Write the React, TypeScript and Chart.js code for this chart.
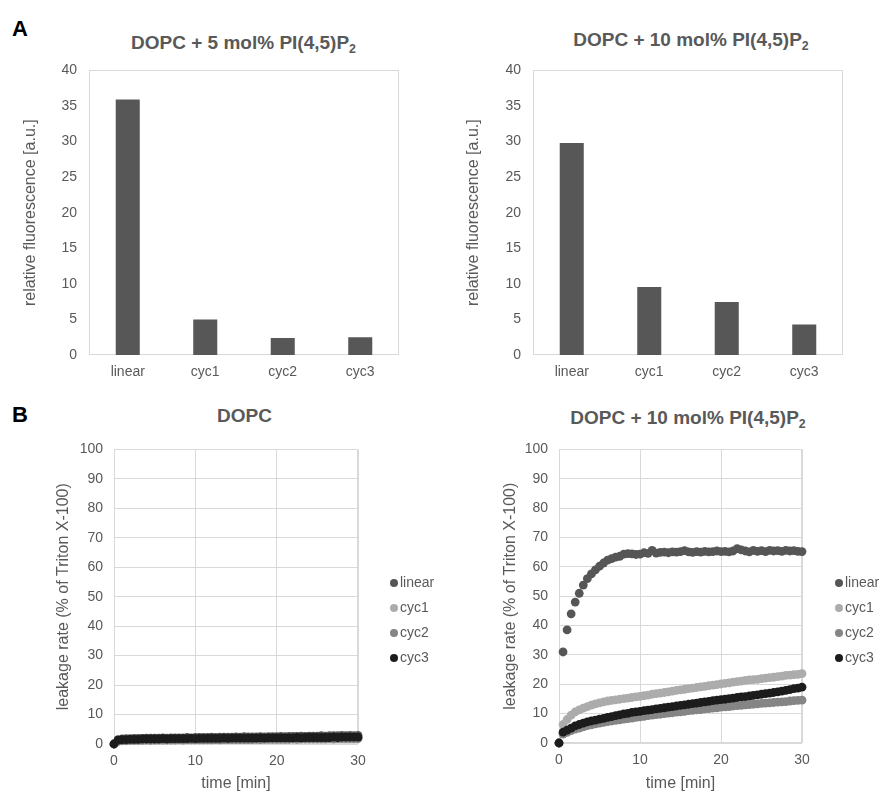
import React, { useEffect, useRef } from 'react';
import { Chart, registerables } from 'chart.js';

Chart.register(...registerables);

const FONT = "'Liberation Sans', Arial, Helvetica, sans-serif";
const TEXT = '#595959';
const GRID = '#d9d9d9';

// ---------- Panel A data ----------
const categories = ['linear', 'cyc1', 'cyc2', 'cyc3'];
const fluor5 = [35.9, 5.0, 2.4, 2.5];
const fluor10 = [29.8, 9.55, 7.45, 4.3];

// ---------- Panel B data ----------
const seriesNames = ['linear', 'cyc1', 'cyc2', 'cyc3'];
const seriesColors = ['#565656', '#acacac', '#858585', '#1c1c1c'];

const timeMin = [
  0, 0.5, 1, 1.5, 2, 2.5, 3, 3.5, 4, 4.5,
  5, 5.5, 6, 6.5, 7, 7.5, 8, 8.5, 9, 9.5,
  10, 10.5, 11, 11.5, 12, 12.5, 13, 13.5, 14, 14.5,
  15, 15.5, 16, 16.5, 17, 17.5, 18, 18.5, 19, 19.5,
  20, 20.5, 21, 21.5, 22, 22.5, 23, 23.5, 24, 24.5,
  25, 25.5, 26, 26.5, 27, 27.5, 28, 28.5, 29, 29.5,
  30,
];

// DOPC
const dopcLinear = [
  0, 1.5, 1.7, 1.8, 1.8, 1.9, 1.9, 1.9, 2.0, 2.0,
  2.0, 2.0, 2.1, 2.0, 2.1, 2.1, 2.1, 2.1, 2.2, 2.1,
  2.2, 2.2, 2.2, 2.2, 2.3, 2.2, 2.3, 2.3, 2.3, 2.3,
  2.4, 2.3, 2.5, 2.4, 2.4, 2.4, 2.5, 2.4, 2.5, 2.5,
  2.5, 2.6, 2.5, 2.6, 2.6, 2.6, 2.7, 2.6, 2.7, 2.7,
  2.7, 2.8, 2.7, 2.8, 2.8, 2.8, 2.9, 2.8, 2.9, 2.8,
  2.9,
];
const dopcCyc1 = [
  0, 1.0, 1.2, 1.3, 1.3, 1.3, 1.4, 1.4, 1.4, 1.4,
  1.4, 1.5, 1.4, 1.5, 1.5, 1.5, 1.5, 1.5, 1.5, 1.6,
  1.5, 1.6, 1.6, 1.6, 1.6, 1.6, 1.6, 1.7, 1.6, 1.7,
  1.7, 1.7, 1.7, 1.7, 1.7, 1.8, 1.7, 1.8, 1.8, 1.8,
  1.8, 1.8, 1.8, 1.9, 1.8, 1.9, 1.9, 1.9, 1.9, 1.9,
  1.9, 2.0, 1.9, 2.0, 2.0, 2.0, 2.0, 2.0, 2.1, 2.0,
  2.1,
];
const dopcCyc2 = [
  0, 0.9, 1.1, 1.1, 1.2, 1.2, 1.2, 1.2, 1.3, 1.2,
  1.3, 1.3, 1.3, 1.3, 1.3, 1.3, 1.4, 1.3, 1.4, 1.4,
  1.4, 1.4, 1.4, 1.4, 1.4, 1.5, 1.4, 1.5, 1.5, 1.5,
  1.5, 1.5, 1.5, 1.5, 1.5, 1.6, 1.5, 1.6, 1.6, 1.6,
  1.6, 1.6, 1.6, 1.6, 1.7, 1.6, 1.7, 1.7, 1.7, 1.7,
  1.7, 1.7, 1.7, 1.8, 1.7, 1.8, 1.8, 1.8, 1.8, 1.8,
  1.8,
];
const dopcCyc3 = [
  0, 1.3, 1.5, 1.5, 1.6, 1.6, 1.6, 1.7, 1.7, 1.7,
  1.7, 1.7, 1.8, 1.7, 1.8, 1.8, 1.8, 1.8, 1.8, 1.9,
  1.8, 1.9, 1.9, 1.9, 1.9, 1.9, 1.9, 2.0, 1.9, 2.0,
  2.0, 2.0, 2.0, 2.0, 2.0, 2.0, 2.1, 2.0, 2.1, 2.1,
  2.1, 2.1, 2.1, 2.1, 2.1, 2.2, 2.1, 2.2, 2.2, 2.2,
  2.2, 2.2, 2.2, 2.2, 2.3, 2.2, 2.3, 2.3, 2.3, 2.3,
  2.3,
];

// DOPC + 10 mol% PI(4,5)P2
const pipLinear = [
  0, 31, 38.5, 44, 48, 51, 53.8, 56, 57.6, 59,
  60.2, 61.3, 62.3, 62.8, 63.3, 63.6, 64.3, 64.5, 64.4, 64.2,
  64.3, 64.8, 64.6, 65.6, 64.7, 64.9, 65.0, 64.8, 65.1, 65.0,
  65.2, 65.5, 65.1, 64.9, 65.2, 65.0, 65.3, 65.1, 65.2, 65.4,
  65.2, 65.3, 65.1, 65.4, 66.2, 65.8, 65.4, 65.1, 65.6, 65.3,
  65.5, 65.2, 65.6, 65.4, 65.5, 65.3, 65.6, 65.4, 65.5, 65.3,
  65.2,
];
const pipCyc1 = [
  0, 6.3, 8.0, 9.5, 10.6, 11.3, 11.9, 12.4, 12.9, 13.3,
  13.7, 14.0, 14.3, 14.5, 14.7, 14.9, 15.1, 15.3, 15.5, 15.7,
  15.9, 16.1, 16.3, 16.6, 16.8, 17.0, 17.2, 17.4, 17.7, 17.9,
  18.1, 18.3, 18.5, 18.7, 18.9, 19.1, 19.3, 19.5, 19.7, 19.9,
  20.1, 20.3, 20.5, 20.7, 20.9, 21.1, 21.3, 21.5, 21.6, 21.7,
  21.9, 22.1, 22.3, 22.4, 22.6, 22.8, 23.0, 23.1, 23.3, 23.4,
  23.6,
];
const pipCyc2 = [
  0, 3.0, 3.6, 4.2, 4.7, 5.1, 5.5, 5.9, 6.2, 6.5,
  6.8, 7.0, 7.3, 7.5, 7.7, 7.9, 8.1, 8.3, 8.5, 8.7,
  8.9, 9.1, 9.3, 9.5, 9.7, 9.8, 10.0, 10.2, 10.3, 10.5,
  10.6, 10.8, 11.0, 11.1, 11.3, 11.4, 11.6, 11.7, 11.9, 12.0,
  12.2, 12.3, 12.4, 12.6, 12.7, 12.8, 13.0, 13.1, 13.2, 13.3,
  13.5, 13.6, 13.7, 13.8, 13.9, 14.0, 14.1, 14.3, 14.4, 14.5,
  14.6,
];
const pipCyc3 = [
  0, 3.7, 4.4, 5.1, 5.8, 6.3, 6.8, 7.2, 7.5, 7.8,
  8.1, 8.4, 8.7, 9.0, 9.3, 9.6, 9.9, 10.1, 10.4, 10.6,
  10.8, 11.0, 11.2, 11.4, 11.6, 11.8, 12.0, 12.2, 12.4, 12.6,
  12.8, 13.0, 13.2, 13.4, 13.6, 13.8, 14.0, 14.2, 14.4, 14.6,
  14.8, 14.9, 15.1, 15.3, 15.5, 15.7, 15.8, 16.0, 16.2, 16.4,
  16.6, 16.8, 17.0, 17.2, 17.4, 17.7, 17.9, 18.2, 18.5, 18.7,
  19.0,
];

type Box = { left: number; top: number; width: number; height: number };
type Plot = { left: number; top: number; right: number; bottom: number };

const framePlugin = {
  id: 'plotFrame',
  beforeDatasetsDraw(chart: any) {
    const { ctx, chartArea } = chart;
    const l = Math.round(chartArea.left) + 0.5;
    const t = Math.round(chartArea.top) + 0.5;
    const r = Math.round(chartArea.right) - 0.5;
    const b = Math.round(chartArea.bottom) - 0.5;
    ctx.save();
    ctx.strokeStyle = GRID;
    ctx.lineWidth = 1;
    ctx.strokeRect(l, t, r - l, b - t);
    ctx.restore();
  },
};

function baseOptions(box: Box, plot: Plot) {
  return {
    animation: false,
    responsive: false,
    devicePixelRatio: 1,
    layout: {
      padding: {
        left: 0,
        top: plot.top - box.top,
        right: box.left + box.width - plot.right,
        bottom: 0,
      },
    },
    plugins: { legend: { display: false }, tooltip: { enabled: false } },
  };
}

function barConfig(box: Box, plot: Plot, values: number[], yTitlePad: number) {
  const yWidth = plot.left - box.left;
  const xHeight = box.top + box.height - plot.bottom;
  return {
    type: 'bar',
    data: {
      labels: categories,
      datasets: [
        {
          data: values,
          backgroundColor: '#575757',
          barPercentage: 0.31,
          categoryPercentage: 1,
        },
      ],
    },
    options: {
      ...baseOptions(box, plot),
      scales: {
        x: {
          grid: { display: false, drawTicks: false },
          border: { display: false },
          ticks: { color: TEXT, font: { family: FONT, size: 14 }, padding: 9 },
          afterFit: (s: any) => {
            s.height = xHeight;
          },
        },
        y: {
          min: 0,
          max: 40,
          ticks: { stepSize: 5, color: TEXT, font: { family: FONT, size: 14 }, padding: 12 },
          grid: { display: false, drawTicks: false },
          border: { display: false },
          title: {
            display: true,
            text: 'relative fluorescence [a.u.]',
            color: TEXT,
            font: { family: FONT, size: 16 },
            padding: { top: yTitlePad, bottom: 0 },
          },
          afterFit: (s: any) => {
            s.width = yWidth;
          },
        },
      },
    },
    plugins: [framePlugin],
  };
}

function scatterConfig(box: Box, plot: Plot, series: number[][], yTitlePad: number) {
  const yWidth = plot.left - box.left;
  const xHeight = box.top + box.height - plot.bottom;
  const drawOrder = [3, 2, 1, 0];
  return {
    type: 'scatter',
    data: {
      datasets: series.map((vals, k) => ({
        label: seriesNames[k],
        data: timeMin.map((t, i) => ({ x: t, y: vals[i] })),
        backgroundColor: seriesColors[k],
        borderColor: seriesColors[k],
        pointRadius: 4.4,
        pointBorderWidth: 0,
        clip: false,
        order: drawOrder[k],
      })),
    },
    options: {
      ...baseOptions(box, plot),
      scales: {
        x: {
          type: 'linear',
          min: 0,
          max: 30,
          ticks: { stepSize: 10, color: TEXT, font: { family: FONT, size: 14 }, padding: 9 },
          grid: { color: GRID, drawTicks: false },
          border: { display: false },
          title: {
            display: true,
            text: 'time [min]',
            color: TEXT,
            font: { family: FONT, size: 16 },
            padding: { top: 0, bottom: 2 },
          },
          afterFit: (s: any) => {
            s.height = xHeight;
          },
        },
        y: {
          min: 0,
          max: 100,
          ticks: { stepSize: 10, color: TEXT, font: { family: FONT, size: 14 }, padding: 11 },
          grid: { color: GRID, drawTicks: false },
          border: { display: false },
          title: {
            display: true,
            text: 'leakage rate (% of Triton X-100)',
            color: TEXT,
            font: { family: FONT, size: 16 },
            padding: { top: yTitlePad, bottom: 0 },
          },
          afterFit: (s: any) => {
            s.width = yWidth;
          },
        },
      },
    },
    plugins: [framePlugin],
  };
}

function ChartPanel({ box, config }: { box: Box; config: any }) {
  const ref = useRef<HTMLCanvasElement | null>(null);
  useEffect(() => {
    const chart = new Chart(ref.current as HTMLCanvasElement, config);
    return () => chart.destroy();
  }, []);
  return (
    <canvas
      ref={ref}
      width={box.width}
      height={box.height}
      style={{
        position: 'absolute',
        left: box.left,
        top: box.top,
        width: box.width,
        height: box.height,
      }}
    />
  );
}

function Title({ cx, cy, children }: { cx: number; cy: number; children: React.ReactNode }) {
  return (
    <div
      style={{
        position: 'absolute',
        left: cx - 200,
        top: cy - 10,
        width: 400,
        height: 20,
        lineHeight: '20px',
        textAlign: 'center',
        fontFamily: FONT,
        fontWeight: 'bold',
        fontSize: 19,
        color: TEXT,
        whiteSpace: 'nowrap',
      }}
    >
      {children}
    </div>
  );
}

function PipTitle({ pct }: { pct: string }) {
  return (
    <>
      {`DOPC + ${pct} mol% PI(4,5)P`}
      <sub style={{ fontSize: '0.65em', verticalAlign: '-0.3em', lineHeight: 0 }}>2</sub>
    </>
  );
}

function PanelLabel({ x, cy, text }: { x: number; cy: number; text: string }) {
  return (
    <div
      style={{
        position: 'absolute',
        left: x,
        top: cy - 12,
        height: 24,
        lineHeight: '24px',
        fontFamily: FONT,
        fontWeight: 'bold',
        fontSize: 22,
        color: '#000',
      }}
    >
      {text}
    </div>
  );
}

const legendRows = [583, 608, 633, 658];

function Legend({ dotX, textX }: { dotX: number; textX: number }) {
  return (
    <>
      {seriesNames.map((name, k) => (
        <React.Fragment key={name}>
          <div
            style={{
              position: 'absolute',
              left: dotX - 4,
              top: legendRows[k] - 4,
              width: 8,
              height: 8,
              borderRadius: 4,
              background: seriesColors[k],
            }}
          />
          <div
            style={{
              position: 'absolute',
              left: textX,
              top: legendRows[k] - 10,
              height: 18,
              lineHeight: '18px',
              fontFamily: FONT,
              fontSize: 14,
              color: TEXT,
              whiteSpace: 'nowrap',
            }}
          >
            {name}
          </div>
        </React.Fragment>
      ))}
    </>
  );
}

const boxA1: Box = { left: 0, top: 50, width: 440, height: 340 };
const plotA1: Plot = { left: 89, top: 69, right: 399, bottom: 355 };
const boxA2: Box = { left: 440, top: 50, width: 439, height: 340 };
const plotA2: Plot = { left: 533, top: 69, right: 843, bottom: 355 };
const boxB1: Box = { left: 0, top: 430, width: 440, height: 365 };
const plotB1: Plot = { left: 114, top: 447, right: 358, bottom: 744 };
const boxB2: Box = { left: 440, top: 430, width: 439, height: 365 };
const plotB2: Plot = { left: 559, top: 449, right: 802, bottom: 743 };

export default function App() {
  return (
    <div
      style={{
        position: 'absolute',
        left: 0,
        top: 0,
        width: 879,
        height: 791,
        overflow: 'hidden',
        background: '#fff',
      }}
    >
      <PanelLabel x={12} cy={29} text="A" />
      <PanelLabel x={12} cy={415} text="B" />
      <Title cx={243.5} cy={43}>
        <PipTitle pct="5" />
      </Title>
      <Title cx={691} cy={40}>
        <PipTitle pct="10" />
      </Title>
      <Title cx={244.5} cy={416}>
        DOPC
      </Title>
      <Title cx={688} cy={418}>
        <PipTitle pct="10" />
      </Title>
      <ChartPanel box={boxA1} config={barConfig(boxA1, plotA1, fluor5, 21)} />
      <ChartPanel box={boxA2} config={barConfig(boxA2, plotA2, fluor10, 24)} />
      <ChartPanel
        box={boxB1}
        config={scatterConfig(boxB1, plotB1, [dopcLinear, dopcCyc1, dopcCyc2, dopcCyc3], 54)}
      />
      <ChartPanel
        box={boxB2}
        config={scatterConfig(boxB2, plotB2, [pipLinear, pipCyc1, pipCyc2, pipCyc3], 61)}
      />
      <Legend dotX={394} textX={400} />
      <Legend dotX={839} textX={845} />
    </div>
  );
}
